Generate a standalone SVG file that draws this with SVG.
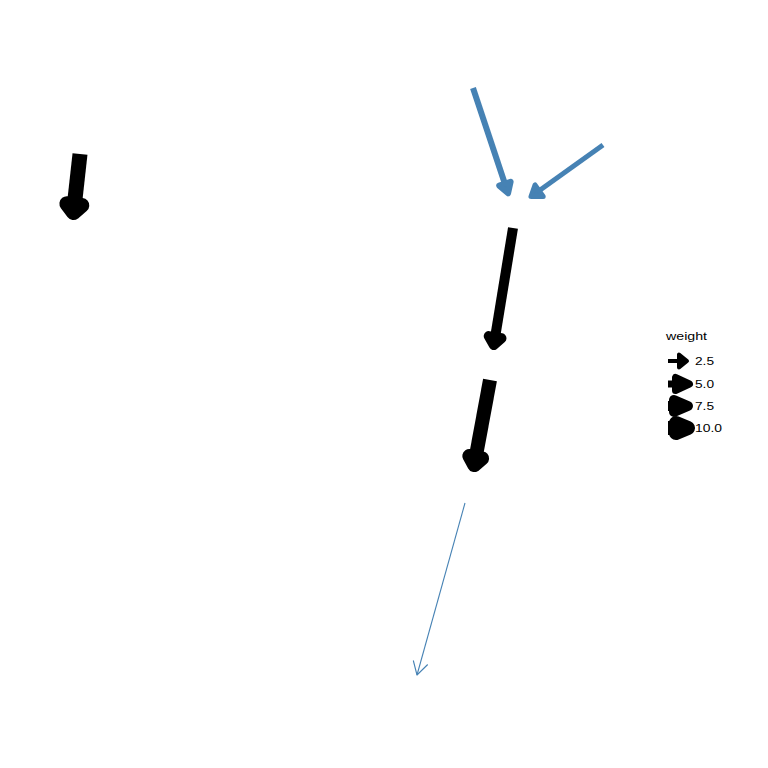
<svg xmlns="http://www.w3.org/2000/svg" width="768" height="768" viewBox="0 0 768 768">
<style>
.blk{stroke:#000;fill:#000;stroke-linejoin:round}
.blu{stroke:#4682B4;fill:#4682B4;stroke-linejoin:round}
.thin{stroke:#4682B4;fill:none;stroke-width:1.1;stroke-linejoin:round}
.lbl{font-family:"Liberation Sans",Arial,sans-serif;font-size:10px;fill:#000}
.ttl{font-family:"Liberation Sans",Arial,sans-serif;font-size:11px;fill:#000}
</style>
<rect width="768" height="768" fill="#fff"/>
<g id="edges">
  <g id="e1" class="blk" stroke-width="15">
    <line x1="80" y1="154" x2="74.4" y2="204.6"/>
    <polygon points="73.5,212.5 81.8,205.4 66.9,203.7"/>
  </g>
  <g id="e2" class="blu" stroke-width="6">
    <line x1="473" y1="88" x2="504.9" y2="183.7"/>
    <polygon points="508.1,193.2 510.6,181.8 499.2,185.6"/>
  </g>
  <g id="e3" class="blu" stroke-width="5">
    <line x1="603" y1="145" x2="539.1" y2="190.7"/>
    <polygon points="531,196.5 543.2,196.4 535,185"/>
  </g>
  <g id="e4" class="blk" stroke-width="10">
    <line x1="513" y1="228" x2="495.1" y2="337.2"/>
    <polygon points="493.8,345.1 501.5,338.3 488.7,336.1"/>
  </g>
  <g id="e5" class="blk" stroke-width="14">
    <line x1="490" y1="380" x2="475.7" y2="457.2"/>
    <polygon points="474.3,465.1 482.1,458.4 469.3,456"/>
  </g>
  <g id="e6" class="thin">
    <line x1="465" y1="503" x2="417" y2="675"/>
    <polyline points="413.3,660.5 417,675 427.7,664.5"/>
  </g>
</g>
<g id="legend">
  <text class="ttl" x="666" y="339.5" textLength="41" lengthAdjust="spacingAndGlyphs">weight</text>
  <g id="k1" class="blk" stroke-width="4">
    <line x1="668" y1="361" x2="679" y2="361"/>
    <polygon points="687,361 679,354.5 679,367.5"/>
  </g>
  <g id="k2" class="blk" stroke-width="7">
    <line x1="668" y1="384" x2="675.5" y2="384"/>
    <polygon points="689.5,384 675.5,377.5 675.5,390.5"/>
  </g>
  <g id="k3" class="blk" stroke-width="10">
    <line x1="668" y1="406" x2="674" y2="406"/>
    <polygon points="688,406 674,400 674,412"/>
  </g>
  <g id="k4" class="blk" stroke-width="14">
    <line x1="668" y1="428" x2="676" y2="428"/>
    <polygon points="688,428 676,423 676,433"/>
  </g>
  <text class="lbl" x="695" y="364.5" textLength="19" lengthAdjust="spacingAndGlyphs">2.5</text>
  <text class="lbl" x="695" y="387.5" textLength="19" lengthAdjust="spacingAndGlyphs">5.0</text>
  <text class="lbl" x="695" y="409.5" textLength="19" lengthAdjust="spacingAndGlyphs">7.5</text>
  <text class="lbl" x="695" y="431.5" textLength="27" lengthAdjust="spacingAndGlyphs">10.0</text>
</g>
</svg>
